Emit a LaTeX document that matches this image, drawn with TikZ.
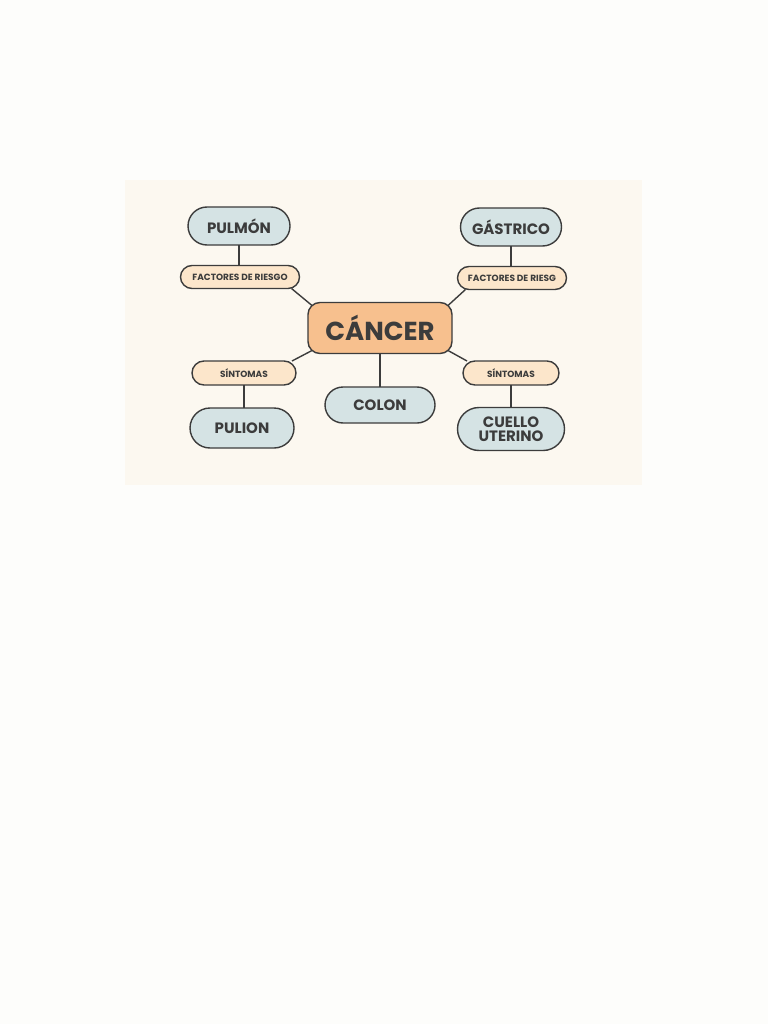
\documentclass[tikz,border=0pt]{standalone}
\usepackage{fontspec}
\setmainfont{Poppins}
\usepackage{tikz}
\definecolor{pagebg}{HTML}{FDFDFB}
\definecolor{panelbg}{HTML}{FCF8F0}
\definecolor{topicblue}{HTML}{D5E3E4}
\definecolor{centreorange}{HTML}{F7C08E}
\definecolor{tagcream}{HTML}{FCE6CB}
\definecolor{inkgrey}{HTML}{3C3C3C}
\tikzset{
    basenode/.style = {
        align=center,
        text centered,
        rectangle,
        draw=inkgrey,
        text=inkgrey,
        line width=1.4pt,
        inner sep=0pt,
        outer sep=0pt
    },
    topicnode/.style = {
        basenode,
        font=\bfseries\fontsize{15}{14.5}\selectfont,
        fill=topicblue,
        minimum height=38pt,
        rounded corners=19pt
    },
    tagnode/.style = {
        basenode,
        font=\bfseries\fontsize{9}{9}\selectfont,
        fill=tagcream,
        minimum height=23pt,
        rounded corners=11.5pt
    },
    mainnode/.style = {
        basenode,
        font=\bfseries\fontsize{26}{26}\selectfont,
        fill=centreorange,
        minimum width=144pt,
        minimum height=51pt,
        rounded corners=12pt
    },
    link/.style = {
        draw=inkgrey,
        line width=1.4pt
    }
}
\begin{document}
\begin{tikzpicture}[x=1pt, y=-1pt]
    \fill[pagebg] (0,0) rectangle (768,1024);
    \useasboundingbox (0,0) rectangle (768,1024);
    \fill[panelbg] (125,180) rectangle (642,485);

    \node [mainnode] (cancer) at (380,328) {CÁNCER};

    \node [topicnode, minimum width=102pt] (pulmon) at (239,226) {PULMÓN};
    \node [topicnode, minimum width=101pt] (gastrico) at (511,227) {GÁSTRICO};
    \node [topicnode, minimum width=110pt, minimum height=36pt, rounded corners=18pt] (colon) at (380,405) {COLON};
    \node [topicnode, minimum width=104pt, minimum height=40pt, rounded corners=20pt] (pulion) at (242,428) {PULION};
    \node [topicnode, minimum width=107pt, minimum height=43pt, rounded corners=21.5pt] (cuello) at (511,429) {CUELLO\\UTERINO};

    \node [tagnode, minimum width=119pt] (riesgoleft) at (240,277) {FACTORES DE RIESGO};
    \node [tagnode, minimum width=109pt] (riesgoright) at (512,278) {FACTORES DE RIESG};
    \node [tagnode, minimum width=104pt, minimum height=24pt, rounded corners=12pt] (sintomasleft) at (244,373) {SÍNTOMAS};
    \node [tagnode, minimum width=96pt, minimum height=24pt, rounded corners=12pt] (sintomasright) at (511,373) {SÍNTOMAS};

    % upper branches
    \draw [link] (pulmon.south) -- (pulmon.south |- riesgoleft.north);
    \draw [link] (gastrico.south) -- (gastrico.south |- riesgoright.north);
    \draw [link] ([xshift=-8pt]riesgoleft.south east) -- ([shift={(4,3)}]cancer.north west);
    \draw [link] ([xshift=8pt]riesgoright.south west) -- ([shift={(-4,3)}]cancer.north east);

    % lower branches
    \draw [link] ([shift={(4,-3)}]cancer.south west) -- ([xshift=-4pt]sintomasleft.north east);
    \draw [link] ([shift={(-4,-3)}]cancer.south east) -- ([xshift=4pt]sintomasright.north west);
    \draw [link] (cancer.south) -- (colon.north);
    \draw [link] (sintomasleft.south) -- (sintomasleft.south |- pulion.north);
    \draw [link] (sintomasright.south) -- (sintomasright.south |- cuello.north);
\end{tikzpicture}
\end{document}
